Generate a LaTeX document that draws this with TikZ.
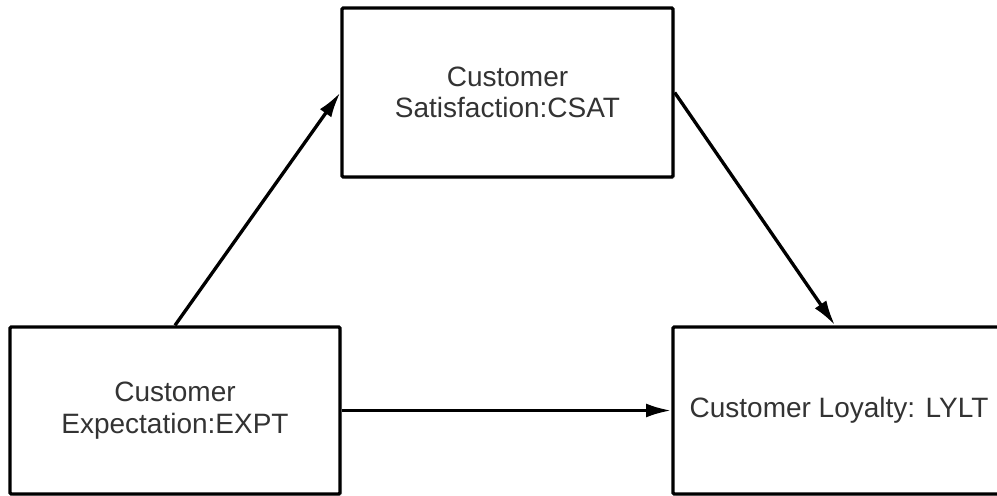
\documentclass[tikz,border=0pt]{standalone}
\usepackage{fontspec}
\setmainfont{Liberation Sans}
\usetikzlibrary{arrows.meta,shadows}
\begin{document}
\begin{tikzpicture}[x=0.75pt,y=-0.75pt,
  box/.style={draw=black, line width=2.5pt, fill=white, rounded corners=1pt,
    align=center, text=black!80, inner sep=0pt,
    font=\fontsize{21pt}{23.5pt}\selectfont,
    drop shadow={shadow xshift=1.5pt, shadow yshift=-1.5pt, opacity=0.12, fill=black}},
  arr/.style={line width=2.5pt, -{Latex[length=19pt,width=10.5pt]}}]
\useasboundingbox (0,0) rectangle (997,496);
\node[box, minimum width=248.25pt, minimum height=126.75pt] (T) at (507.5,92.5) {Customer\\Satisfaction:CSAT};
\node[box, minimum width=247.5pt, minimum height=125.25pt] (L) at (175,410.5) {Customer\\Expectation:EXPT};
\node[box, minimum width=249pt, minimum height=125.25pt] (R) at (839,410.5) {Customer Loyalty: LYLT};
\draw[arr] (L.north) -- (T.west);
\draw[arr] (T.east) -- ([xshift=-3pt]R.north);
\draw[arr] (L.east) -- (R.west);
\end{tikzpicture}
\end{document}
